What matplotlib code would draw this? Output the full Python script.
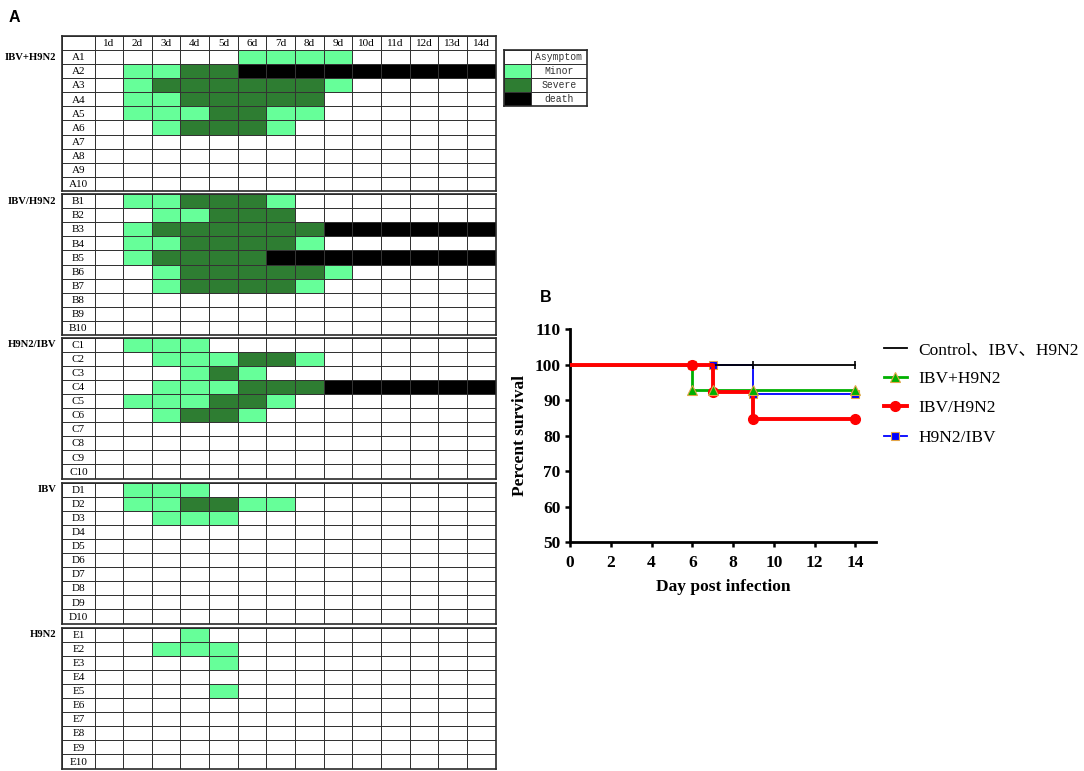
import numpy as np
import matplotlib
matplotlib.use("Agg")
import matplotlib.pyplot as plt
from matplotlib.colors import ListedColormap
from matplotlib.lines import Line2D

# ── Panel A data: clinical score per bird per day ─────────────────────────────
# 0 = asymptom, 1 = minor, 2 = severe, 3 = death
DAY_LABELS = ["1d", "2d", "3d", "4d", "5d", "6d", "7d", "8d", "9d",
              "10d", "11d", "12d", "13d", "14d"]
GROUP_NAMES = ["IBV+H9N2", "IBV/H9N2", "H9N2/IBV", "IBV", "H9N2"]
GROUP_PREFIX = ["A", "B", "C", "D", "E"]

SCORES_A = ["00000111100000", "01122333333333", "01222222100000",
            "01122222000000", "01112211000000", "00122210000000",
            "00000000000000", "00000000000000", "00000000000000",
            "00000000000000"]
SCORES_B = ["01122210000000", "00112220000000", "01222222333333",
            "01122221000000", "01222233333333", "00122222100000",
            "00122221000000", "00000000000000", "00000000000000",
            "00000000000000"]
SCORES_C = ["01110000000000", "00111221000000", "00012100000000",
            "00111222333333", "01112210000000", "00122100000000",
            "00000000000000", "00000000000000", "00000000000000",
            "00000000000000"]
SCORES_D = ["01110000000000", "01122110000000", "00111000000000",
            "00000000000000", "00000000000000", "00000000000000",
            "00000000000000", "00000000000000", "00000000000000",
            "00000000000000"]
SCORES_E = ["00010000000000", "00111000000000", "00001000000000",
            "00000000000000", "00001000000000", "00000000000000",
            "00000000000000", "00000000000000", "00000000000000",
            "00000000000000"]
GROUP_SCORES = [SCORES_A, SCORES_B, SCORES_C, SCORES_D, SCORES_E]

STATE_LABELS = ["Asymptom", "Minor", "Severe", "death"]

# ── Panel B data: survival ────────────────────────────────────────────────────
DAYS_OBS = [0, 6, 7, 9, 14]
SURV_CONTROL = [100, 100, 100, 100, 100]
SURV_IBV_H9N2 = [100, 92.9, 92.9, 92.9, 92.9]
SURV_IBV_THEN_H9N2 = [100, 100, 92.3, 84.6, 84.6]
SURV_H9N2_THEN_IBV = [100, 100, 100, 91.7, 91.7]

# ── Style ─────────────────────────────────────────────────────────────────────
MINOR = "#66FF99"
SEVERE = "#2E7D32"
EDGE = "#333333"
GRID_LW = 0.7
CMAP = ListedColormap(["white", MINOR, SEVERE, "black"])
SERIF = ["Liberation Serif", "DejaVu Serif"]
SERIF_CJK = ["Liberation Serif", "Noto Sans CJK SC"]
ORANGE = "#E3A547"

W, H = 1084, 771
fig = plt.figure(figsize=(W / 100, H / 100), dpi=100)
fig.patch.set_facecolor("white")


def px_rect(x0, y0, x1, y1):
    return [x0 / W, 1 - y1 / H, (x1 - x0) / W, (y1 - y0) / H]


def table_mesh(ax, xe, ye, values):
    ax.pcolormesh(xe, ye, values, cmap=CMAP, vmin=-0.5, vmax=3.5,
                  edgecolors=EDGE, linewidth=GRID_LW, snap=True)


def frame(ax):
    ax.set_xticks([])
    ax.set_yticks([])
    for sp in ax.spines.values():
        sp.set_color("#2a2a2a")
        sp.set_linewidth(1.2)


# ── Panel A: grid tables ──────────────────────────────────────────────────────
GRID_X0, LABEL_X1, GRID_X1 = 62.3, 94.5, 495.7
ROW_H = 14.1
BLOCK_TOPS = [50.0, 194.0, 337.5, 482.5, 627.5]
day_w = (GRID_X1 - LABEL_X1) / len(DAY_LABELS)
label_w = (LABEL_X1 - GRID_X0) / day_w
x_edges = np.concatenate([[-label_w], np.arange(len(DAY_LABELS) + 1)])

for g, (name, prefix, scores) in enumerate(zip(GROUP_NAMES, GROUP_PREFIX, GROUP_SCORES)):
    top = BLOCK_TOPS[g]
    n = len(scores)
    header = 1 if g == 0 else 0
    ax = fig.add_axes(px_rect(GRID_X0, top - header * ROW_H, GRID_X1, top + n * ROW_H))
    mat = np.array([[0] + [int(c) for c in row] for row in scores])
    table_mesh(ax, x_edges, np.arange(n + 1), mat)
    if header:
        table_mesh(ax, x_edges, [-1, 0], np.zeros((1, len(x_edges) - 1)))
        for j, lab in enumerate(DAY_LABELS):
            ax.text(j + 0.5, -0.45, lab, ha="center", va="center",
                    fontsize=8, family=SERIF)
    for i in range(n):
        ax.text(-label_w / 2, i + 0.55, f"{prefix}{i + 1}", ha="center", va="center",
                fontsize=8, family=SERIF)
    ax.text(-label_w - 0.2, 0.5, name, ha="right", va="center",
            fontsize=7.7, family=SERIF, fontweight="bold")
    ax.set_xlim(x_edges[0], x_edges[-1])
    ax.set_ylim(n, -header)
    frame(ax)

# legend table for the clinical states
axl = fig.add_axes(px_rect(504, 49.5, 587, 105.5))
leg_mat = np.array([[i, 0] for i in range(len(STATE_LABELS))])
table_mesh(axl, [0, 27, 83], np.arange(len(STATE_LABELS) + 1), leg_mat)
for i, lab in enumerate(STATE_LABELS):
    axl.text(55, i + 0.55, lab, ha="center", va="center", fontsize=7,
             family=["Liberation Mono", "DejaVu Sans Mono"], color="#333333")
axl.set_xlim(0, 83)
axl.set_ylim(len(STATE_LABELS), 0)
frame(axl)

fig.text(14 / W, 1 - 17 / H, "A", ha="center", va="center", fontsize=11.5,
         fontweight="bold", family=["Liberation Sans", "DejaVu Sans"])

# ── Panel B: survival curves ──────────────────────────────────────────────────
axb = fig.add_axes(px_rect(570, 329.3, 875.7, 542.3))

axb.step(DAYS_OBS, SURV_H9N2_THEN_IBV, where="post", color="#0000FF", lw=1.3, zorder=2)
axb.plot(DAYS_OBS[1:], SURV_H9N2_THEN_IBV[1:], ls="none", marker="s", ms=6,
         mfc="#0000FF", mec=ORANGE, mew=0.8, zorder=3)
axb.step(DAYS_OBS, SURV_IBV_H9N2, where="post", color="#00B000", lw=2.0, zorder=4)
axb.plot(DAYS_OBS[1:], SURV_IBV_H9N2[1:], ls="none", marker="^", ms=7.5,
         mfc="#00B000", mec=ORANGE, mew=0.8, zorder=6)
axb.step(DAYS_OBS, SURV_CONTROL, where="post", color="black", lw=1.3, zorder=4)
axb.plot(DAYS_OBS[3:], SURV_CONTROL[3:], ls="none", marker="|", ms=6,
         mec="black", mew=1.2, zorder=4)
axb.step(DAYS_OBS, SURV_IBV_THEN_H9N2, where="post", color="#FF0000", lw=2.8, zorder=5)
axb.plot(DAYS_OBS[1:], SURV_IBV_THEN_H9N2[1:], ls="none", marker="o", ms=7,
         mfc="#FF0000", mec="#FF0000", zorder=5)

axb.set_xlim(0, 15)
axb.set_ylim(50, 110)
axb.set_xticks(np.arange(0, 15, 2))
axb.set_yticks(np.arange(50, 111, 10))
for side in ("top", "right"):
    axb.spines[side].set_visible(False)
for side in ("left", "bottom"):
    axb.spines[side].set_linewidth(2.0)
axb.tick_params(direction="out", length=3.8, width=1.8)
axb.tick_params(axis="x", pad=5)
axb.tick_params(axis="y", pad=3)
for lab in axb.get_xticklabels() + axb.get_yticklabels():
    lab.set_fontfamily(SERIF)
    lab.set_fontweight("bold")
    lab.set_fontsize(12.5)
axb.set_xlabel("Day post infection", fontsize=12.5, fontweight="bold",
               family=SERIF, labelpad=6)
axb.set_ylabel("Percent survival", fontsize=12.5, fontweight="bold",
               family=SERIF, labelpad=5)

handles = [
    Line2D([], [], color="black", lw=1.3),
    Line2D([], [], color="#00B000", lw=2.0, marker="^", ms=7.5, mfc="#00B000",
           mec=ORANGE, mew=0.8),
    Line2D([], [], color="#FF0000", lw=2.8, marker="o", ms=7, mfc="#FF0000"),
    Line2D([], [], color="#0000FF", lw=1.3, marker="s", ms=6, mfc="#0000FF",
           mec=ORANGE, mew=0.8),
]
labels = ["Control、IBV、H9N2", "IBV+H9N2", "IBV/H9N2", "H9N2/IBV"]
axb.legend(handles, labels, loc="upper left", bbox_to_anchor=(884 / W, 1 - 342 / H),
           bbox_transform=fig.transFigure, frameon=False, borderpad=0,
           borderaxespad=0, handlelength=1.3, handletextpad=0.7, labelspacing=0.75,
           prop={"family": SERIF_CJK, "size": 12.5})

fig.text(546 / W, 1 - 298 / H, "B", ha="center", va="center", fontsize=11.5,
         fontweight="bold", family=["Liberation Sans", "DejaVu Sans"])

fig.savefig("out.png", dpi=100, facecolor="white")
